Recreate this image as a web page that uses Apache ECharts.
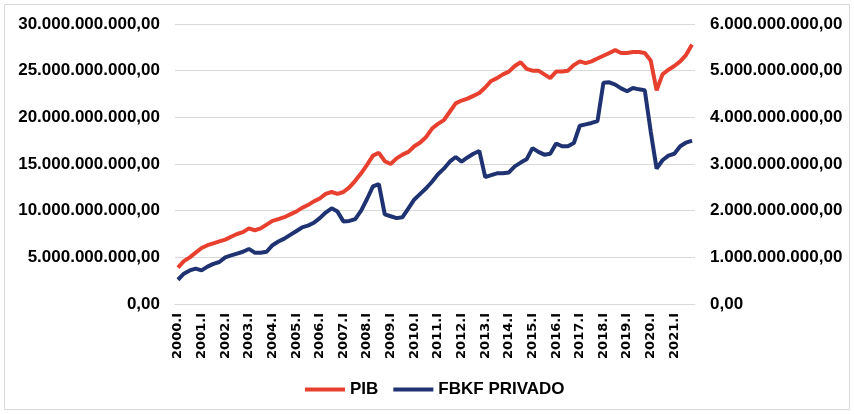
<!DOCTYPE html>
<html>
<head>
<meta charset="utf-8">
<script src="https://cdn.jsdelivr.net/npm/echarts@6/dist/echarts.min.js"></script>
<style>
  html, body { margin: 0; padding: 0; background: #fff; }
  #chart { width: 854px; height: 414px; }
</style>
</head>
<body>
<div id="chart"></div>
<script>
// quarterly values, in billions
var years = [2000, 2001, 2002, 2003, 2004, 2005, 2006, 2007, 2008, 2009, 2010,
  2011, 2012, 2013, 2014, 2015, 2016, 2017, 2018, 2019, 2020, 2021];
var quarters = ["I", "II", "III", "IV"];

var pib = [
  3.9, 4.6, 5.0, 5.5,
  6.0, 6.3, 6.5, 6.7,
  6.9, 7.2, 7.5, 7.7,
  8.1, 7.9, 8.1, 8.5,
  8.9, 9.1, 9.3, 9.6,
  9.9, 10.3, 10.6, 11.0,
  11.3, 11.8, 12.0, 11.8,
  12.0, 12.5, 13.2, 14.0,
  14.9, 15.9, 16.2, 15.3,
  15.0, 15.6, 16.0, 16.3,
  16.9, 17.3, 17.9, 18.8,
  19.3, 19.7, 20.6, 21.5,
  21.8, 22.0, 22.3, 22.6,
  23.2, 23.9, 24.2, 24.6,
  24.9, 25.5, 25.9, 25.2,
  25.0, 25.0, 24.6, 24.2,
  24.9, 24.9, 25.0, 25.6,
  26.0, 25.8, 26.0, 26.3,
  26.6, 26.9, 27.2, 26.9,
  26.9, 27.0, 27.0, 26.9,
  26.1, 22.9, 24.6, 25.1,
  25.5, 26.0, 26.7, 27.8
];

var fbkf = [
  0.52, 0.65, 0.72, 0.76,
  0.72, 0.80, 0.86, 0.90,
  1.00, 1.04, 1.08, 1.12,
  1.18, 1.10, 1.10, 1.12,
  1.26, 1.34, 1.40, 1.48,
  1.56, 1.64, 1.68, 1.74,
  1.84, 1.96, 2.05, 1.98,
  1.77, 1.78, 1.82, 2.00,
  2.25, 2.52, 2.57, 1.92,
  1.88, 1.84, 1.86, 2.05,
  2.24, 2.36, 2.48, 2.62,
  2.78, 2.90, 3.05, 3.15,
  3.05, 3.14, 3.22, 3.28,
  2.72, 2.76, 2.80, 2.80,
  2.82, 2.95, 3.03, 3.10,
  3.34, 3.26, 3.20, 3.22,
  3.44, 3.38, 3.38, 3.45,
  3.82, 3.85, 3.88, 3.92,
  4.74, 4.75, 4.70, 4.62,
  4.56, 4.63, 4.60, 4.58,
  3.70, 2.90, 3.08, 3.18,
  3.22, 3.38, 3.46, 3.50
];

var categories = [];
years.forEach(function (y) {
  quarters.forEach(function (q) {
    categories.push(y + "." + q);
  });
});

function brNumber(v) {
  var n = Math.round(v * 1e9);
  return n.toString().replace(/\B(?=(\d{3})+(?!\d))/g, ".") + ",00";
}

var myChart = echarts.init(document.getElementById("chart"));
var option = {
  animation: false,
  backgroundColor: "#fff",
  graphic: [{
    type: "rect",
    shape: { x: 4.5, y: 4.5, width: 845, height: 405 },
    style: { fill: "none", stroke: "#d9d9d9", lineWidth: 1 },
    silent: true
  }],
  grid: {
    left: 175,
    right: 159,
    top: 24,
    bottom: 110
  },
  legend: {
    left: 300,
    top: 376,
    itemWidth: 40,
    itemHeight: 4,
    itemGap: 15,
    icon: "rect",
    textStyle: {
      fontFamily: "Liberation Sans",
      fontWeight: "bold",
      fontSize: 17,
      color: "#000"
    },
    data: ["PIB", "FBKF PRIVADO"]
  },
  xAxis: {
    type: "category",
    data: categories,
    boundaryGap: true,
    axisLine: { lineStyle: { color: "#d9d9d9" } },
    axisTick: { show: false },
    axisLabel: {
      interval: 3,
      rotate: 90,
      margin: 9,
      fontFamily: "DejaVu Sans",
      fontWeight: "bold",
      fontSize: 13,
      color: "#000"
    }
  },
  yAxis: [
    {
      type: "value",
      min: 0,
      max: 30,
      interval: 5,
      axisLine: { show: false },
      axisTick: { show: false },
      splitLine: { lineStyle: { color: "#d9d9d9" } },
      axisLabel: {
        margin: 15,
        formatter: brNumber,
        fontFamily: "Liberation Sans",
        fontWeight: "bold",
        fontSize: 17,
        color: "#000"
      }
    },
    {
      type: "value",
      min: 0,
      max: 6,
      interval: 1,
      position: "right",
      axisLine: { show: false },
      axisTick: { show: false },
      splitLine: { show: false },
      axisLabel: {
        margin: 15,
        formatter: brNumber,
        fontFamily: "Liberation Sans",
        fontWeight: "bold",
        fontSize: 17,
        color: "#000"
      }
    }
  ],
  series: [
    {
      name: "PIB",
      type: "line",
      yAxisIndex: 0,
      data: pib,
      showSymbol: false,
      color: "#e8402f",
      lineStyle: { width: 4, color: "#e8402f" }
    },
    {
      name: "FBKF PRIVADO",
      type: "line",
      yAxisIndex: 1,
      data: fbkf,
      showSymbol: false,
      color: "#1f3372",
      lineStyle: { width: 4, color: "#1f3372" }
    }
  ]
};
myChart.setOption(option);
</script>
</body>
</html>
